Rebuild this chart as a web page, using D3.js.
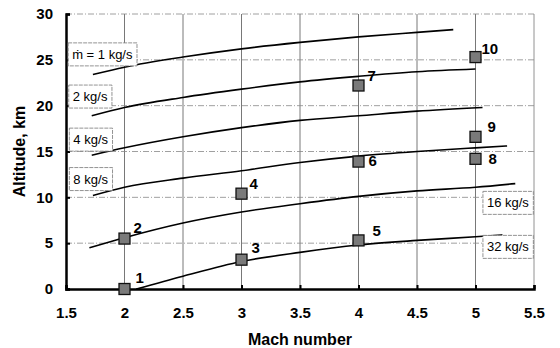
<!DOCTYPE html>
<html>
<head>
<meta charset="utf-8">
<script src="https://cdn.jsdelivr.net/npm/d3@7"></script>
<style>
  body { margin: 0; background: #fff; }
  text { font-family: Arial, "Liberation Sans", sans-serif; }
</style>
</head>
<body>
<div id="chart"></div>
<script>
var margin = {top: 14, right: 26, bottom: 59, left: 66},
    width = 560, height = 348;

// tick values
var xTicks = [1.5, 2, 2.5, 3, 3.5, 4, 4.5, 5, 5.5];
var yTicks = [0, 5, 10, 15, 20, 25, 30];

// flow-rate curves
var machs = {
  c1:  [1.73, 2, 2.5, 3, 3.5, 4, 4.5, 4.81],
  c2:  [1.72, 2, 2.5, 3, 3.5, 4, 4.5, 5],
  c4:  [1.72, 2, 2.5, 3, 3.5, 4, 4.5, 5.06],
  c8:  [1.73, 2, 2.5, 3, 3.5, 4, 4.5, 5, 5.27],
  c16: [1.7, 2, 2.5, 3, 3.5, 4, 4.5, 5, 5.34],
  c32: [2.1, 2.5, 3, 3.5, 4, 4.5, 5, 5.23]
};
var alts = {
  c1:  [23.4, 24.2, 25.3, 26.2, 26.9, 27.5, 28.0, 28.3],
  c2:  [18.9, 19.8, 20.9, 21.8, 22.6, 23.2, 23.7, 24.0],
  c4:  [14.6, 15.4, 16.6, 17.6, 18.4, 18.9, 19.4, 19.8],
  c8:  [10.2, 11.1, 12.1, 12.9, 13.8, 14.5, 15.0, 15.4, 15.6],
  c16: [4.5, 5.6, 7.2, 8.4, 9.3, 10.1, 10.7, 11.1, 11.5],
  c32: [0, 1.4, 3.0, 4.0, 4.8, 5.3, 5.7, 5.9]
};
var curveLabels = ["ṁ = 1 kg/s", "2 kg/s", "4 kg/s", "8 kg/s", "16 kg/s", "32 kg/s"];
var labelX = [1.51, 1.515, 1.52, 1.52, 5.055, 5.055];
var labelY = [25.6, 21.0, 16.3, 12.0, 9.4, 4.6];

// test points
var ptMach = [2, 2, 3, 3, 4, 4, 4, 5, 5, 5];
var ptAlt  = [0, 5.5, 3.2, 10.4, 5.3, 13.9, 22.2, 14.2, 16.6, 25.3];
var ptName = ["1", "2", "3", "4", "5", "6", "7", "8", "9", "10"];
// where each number sits next to its square (px)
var ptDx = [11, 9, 10, 8, 14, 10, 9, 13, 12, 6];
var ptDy = [-6, -6, -7, -5, -4, 4, -5, 5, -5, -3];

var x = d3.scaleLinear().domain([1.5, 5.5]).range([margin.left, width - margin.right]);
var y = d3.scaleLinear().domain([0, 30]).range([height - margin.bottom, margin.top]);

var svg = d3.select("#chart").append("svg")
    .attr("width", width)
    .attr("height", height);

// grid
svg.append("g").selectAll("line")
    .data(xTicks.slice(1))
  .enter().append("line")
    .attr("x1", function(d) { return x(d); })
    .attr("x2", function(d) { return x(d); })
    .attr("y1", y(0))
    .attr("y2", y(30))
    .attr("stroke", function(d) { return d == 5.5 ? "#777" : "#555"; })
    .attr("stroke-width", 0.8);

svg.append("g").selectAll("line")
    .data(yTicks.slice(1))
  .enter().append("line")
    .attr("x1", x(1.5))
    .attr("x2", x(5.5))
    .attr("y1", function(d) { return y(d); })
    .attr("y2", function(d) { return y(d); })
    .attr("stroke", "#888")
    .attr("stroke-width", 0.8)
    .attr("stroke-dasharray", "6,2,1,2");

// axes
var xAxis = svg.append("g")
    .attr("transform", "translate(0," + y(0) + ")")
    .call(d3.axisBottom(x).tickValues(xTicks).tickSize(-4).tickPadding(18)
      .tickFormat(function(d) { return d; }));
var yAxis = svg.append("g")
    .attr("transform", "translate(" + x(1.5) + ",0)")
    .call(d3.axisLeft(y).tickValues(yTicks).tickSize(-4).tickPadding(13));

[xAxis, yAxis].forEach(function(a) {
  a.select(".domain").attr("stroke", "#000").attr("stroke-width", 2.5);
  a.selectAll(".tick line").attr("stroke", "#000").attr("stroke-width", 2);
  a.selectAll(".tick text")
    .attr("fill", "#000")
    .style("font-size", "15px")
    .style("font-weight", "bold");
});

svg.append("text")
    .attr("x", (x(1.5) + x(5.5)) / 2)
    .attr("y", 345)
    .attr("text-anchor", "middle")
    .style("font-size", "16px")
    .style("font-weight", "bold")
    .text("Mach number");

svg.append("text")
    .attr("transform", "translate(25," + y(15) + ") rotate(-90)")
    .attr("text-anchor", "middle")
    .style("font-size", "16px")
    .style("font-weight", "bold")
    .text("Altitude, km");

// curves
var keys = ["c1", "c2", "c4", "c8", "c16", "c32"];
var line = d3.line()
    .x(function(d) { return x(d[0]); })
    .y(function(d) { return y(d[1]); })
    .curve(d3.curveMonotoneX);

keys.forEach(function(k) {
  var pts = machs[k].map(function(m, i) { return [m, alts[k][i]]; });
  svg.append("path")
      .datum(pts)
      .attr("d", line)
      .attr("fill", "none")
      .attr("stroke", "#000")
      .attr("stroke-width", 1.6);
});

// curve labels in boxes
curveLabels.forEach(function(t, i) {
  var g = svg.append("g");
  var txt = g.append("text")
      .attr("x", x(labelX[i]) + 5)
      .attr("y", y(labelY[i]))
      .attr("dy", "0.35em")
      .style("font-size", "13px")
      .text(t);
  var bb = txt.node().getBBox();
  g.insert("rect", "text")
      .attr("x", bb.x - 4)
      .attr("y", bb.y - 4)
      .attr("width", bb.width + 8)
      .attr("height", bb.height + 8)
      .attr("fill", "#fff")
      .attr("stroke", "#777")
      .attr("stroke-width", 0.8)
      .attr("stroke-dasharray", "4,1");
});

// points
var s = 11;
svg.append("g").selectAll("rect")
    .data(ptMach)
  .enter().append("rect")
    .attr("x", function(d) { return x(d) - s / 2; })
    .attr("y", function(d, i) { return y(ptAlt[i]) - s / 2; })
    .attr("width", s)
    .attr("height", s)
    .attr("fill", "#7a7a7a")
    .attr("stroke", "#111")
    .attr("stroke-width", 1.3);

svg.append("g").selectAll("text")
    .data(ptName)
  .enter().append("text")
    .attr("x", function(d, i) { return x(ptMach[i]) + ptDx[i]; })
    .attr("y", function(d, i) { return y(ptAlt[i]) + ptDy[i]; })
    .style("font-size", "15px")
    .style("font-weight", "bold")
    .text(function(d) { return d; });
</script>
</body>
</html>
